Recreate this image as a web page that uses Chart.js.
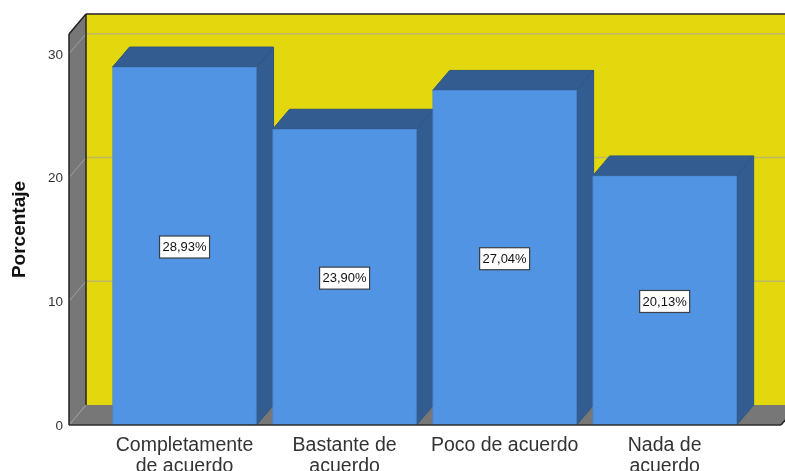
<!DOCTYPE html>
<html>
<head>
<meta charset="utf-8">
<title>Porcentaje</title>
<script src="https://cdn.jsdelivr.net/npm/chart.js@4"></script>
<style>
  html, body { margin: 0; padding: 0; background: #fff; overflow: hidden; }
  canvas { display: block; }
</style>
</head>
<body>
<canvas id="chart" width="785" height="471"></canvas>
<script>
const categories = [
    ['Completamente', 'de acuerdo'],
    ['Bastante de', 'acuerdo'],
    ['Poco de acuerdo'],
    ['Nada de', 'acuerdo']
];
const percentages = [28.93, 23.90, 27.04, 20.13];
const yTicks = [0, 10, 20, 30];

// profundidad del efecto 3D
const depthX = 17;
const depthY = 20;
const yellow = '#e3d80d';
const blue = '#5294e4';
const darkBlue = '#335c90';
const grey = '#777777';
const edge = '#222222';

function poly(ctx, pts, fill, stroke) {
    ctx.beginPath();
    pts.forEach((p, i) => i ? ctx.lineTo(p[0], p[1]) : ctx.moveTo(p[0], p[1]));
    ctx.closePath();
    if (fill) { ctx.fillStyle = fill; ctx.fill(); }
    if (stroke) { ctx.strokeStyle = stroke; ctx.lineWidth = 1; ctx.stroke(); }
}

function line(ctx, x1, y1, x2, y2, color, width) {
    ctx.beginPath();
    ctx.moveTo(x1, y1);
    ctx.lineTo(x2, y2);
    ctx.strokeStyle = color;
    ctx.lineWidth = width;
    ctx.stroke();
}

const box3d = {
    id: 'box3d',
    beforeDatasetsDraw(chart) {
        const ctx = chart.ctx;
        const a = chart.chartArea;
        const y = chart.scales.y;
        ctx.save();

        // paredes y suelo
        poly(ctx, [[a.left + depthX, a.top - depthY], [a.right + depthX, a.top - depthY],
                   [a.right + depthX, a.bottom - depthY], [a.left + depthX, a.bottom - depthY]], yellow);
        poly(ctx, [[a.left, a.top], [a.left + depthX, a.top - depthY],
                   [a.left + depthX, a.bottom - depthY], [a.left, a.bottom]], grey);
        poly(ctx, [[a.left, a.bottom], [a.left + depthX, a.bottom - depthY],
                   [a.right + depthX, a.bottom - depthY], [a.right, a.bottom]], grey);

        // rejilla
        yTicks.forEach(v => {
            const py = y.getPixelForValue(v);
            line(ctx, a.left, py, a.left + depthX, py - depthY, '#a0a0a0', 1);
            if (v > 0) line(ctx, a.left + depthX, py - depthY, a.right + depthX, py - depthY, '#bdb86a', 1.5);
        });

        // bordes
        line(ctx, a.left + depthX, a.top - depthY, a.right + depthX, a.top - depthY, edge, 1.5);
        line(ctx, a.left + depthX, a.top - depthY, a.left + depthX, a.bottom - depthY, edge, 1.5);
        line(ctx, a.left, a.top, a.left + depthX, a.top - depthY, edge, 1.5);
        line(ctx, a.left, a.top, a.left, a.bottom, edge, 1.5);
        line(ctx, a.right, a.bottom, a.right + depthX, a.bottom - depthY, edge, 1.5);

        // laterales y tapas de las barras
        chart.getDatasetMeta(0).data.forEach(bar => {
            const p = bar.getProps(['x', 'y', 'base', 'width'], true);
            const l = p.x - p.width / 2;
            const r = p.x + p.width / 2;
            poly(ctx, [[r, p.y], [r + depthX, p.y - depthY], [r + depthX, p.base - depthY], [r, p.base]], darkBlue, '#2f5582');
            poly(ctx, [[l, p.y], [l + depthX, p.y - depthY], [r + depthX, p.y - depthY], [r, p.y]], darkBlue, '#2f5582');
        });
        ctx.restore();
    },
    afterDatasetsDraw(chart) {
        const ctx = chart.ctx;
        const a = chart.chartArea;
        ctx.save();
        line(ctx, a.left, a.bottom, a.right, a.bottom, '#2b2b2b', 1.5);

        // etiquetas de valor
        ctx.font = '13px "Liberation Sans", Arial, sans-serif';
        ctx.textAlign = 'center';
        ctx.textBaseline = 'middle';
        chart.getDatasetMeta(0).data.forEach((bar, i) => {
            const p = bar.getProps(['x', 'y', 'base'], true);
            const cy = (p.y + p.base) / 2 + 1;
            const text = percentages[i].toFixed(2).replace('.', ',') + '%';
            ctx.fillStyle = '#ffffff';
            ctx.strokeStyle = '#3a3f46';
            ctx.lineWidth = 1.2;
            ctx.fillRect(p.x - 25, cy - 11, 50, 22);
            ctx.strokeRect(p.x - 25, cy - 11, 50, 22);
            ctx.fillStyle = '#111111';
            ctx.fillText(text, p.x, cy + 0.5);
        });
        ctx.restore();
    }
};

new Chart(document.getElementById('chart'), {
    type: 'bar',
    data: {
        datasets: [{
            data: percentages.map((v, i) => ({ x: i, y: v })),
            backgroundColor: blue,
            borderColor: '#4a86cf',
            borderWidth: 1,
            barThickness: 144
        }]
    },
    options: {
        responsive: false,
        animation: false,
        layout: { padding: { top: 34, right: 4, left: 0, bottom: 0 } },
        plugins: { legend: { display: false }, tooltip: { enabled: false } },
        scales: {
            x: {
                type: 'linear',
                offset: false,
                min: -0.722,
                max: 3.727,
                grid: { display: false },
                border: { display: false },
                afterFit: s => { s.height = 46; },
                ticks: {
                    stepSize: 1,
                    includeBounds: false,
                    autoSkip: false,
                    maxRotation: 0,
                    minRotation: 0,
                    padding: 3,
                    color: '#333333',
                    font: { family: '"Liberation Sans", Arial, sans-serif', size: 19.5, lineHeight: 1.03 },
                    callback: v => categories[v] || ''
                }
            },
            y: {
                min: 0,
                max: 31.6,
                grid: { display: false },
                border: { display: false },
                afterFit: s => { s.width = 69; },
                title: {
                    display: true,
                    text: 'Porcentaje',
                    color: '#111111',
                    padding: { top: 8, bottom: 0 },
                    font: { family: '"Liberation Sans", Arial, sans-serif', size: 19, weight: 'bold' }
                },
                ticks: {
                    stepSize: 10,
                    includeBounds: false,
                    padding: -2,
                    labelOffset: 1,
                    color: '#333333',
                    font: { family: '"Liberation Sans", Arial, sans-serif', size: 13.5 }
                }
            }
        }
    },
    plugins: [box3d]
});
</script>
</body>
</html>
